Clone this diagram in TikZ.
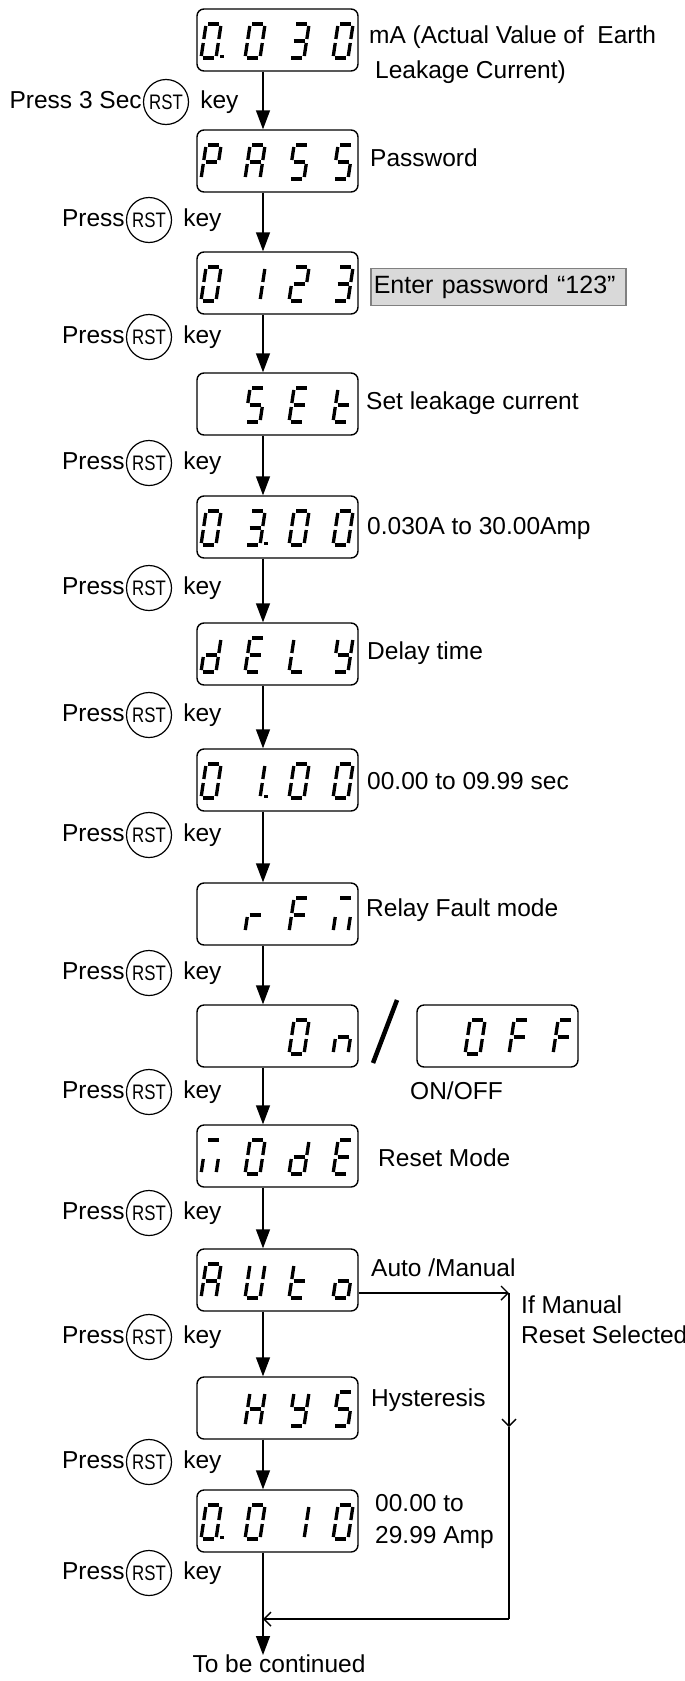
\documentclass[tikz,border=0pt]{standalone}
\usepackage{fontspec}
\setmainfont{Liberation Sans}
\newfontfamily\keyfont[FakeStretch=0.8]{Liberation Sans}
\usetikzlibrary{arrows.meta}

% one digit of the display, #1,#2 = lower left corner, #3 = segments
\newcommand{\lcdcell}[3]{%
  \begin{scope}[shift={(#1,#2)},yscale=-1,xslant=-0.15]
    \coordinate (sa1) at (2,34);  \coordinate (sa2) at (13,34);
    \coordinate (sb1) at (15,32); \coordinate (sb2) at (15,19);
    \coordinate (sc1) at (15,15); \coordinate (sc2) at (15,2);
    \coordinate (sd1) at (2,0);   \coordinate (sd2) at (13,0);
    \coordinate (se1) at (0,2);   \coordinate (se2) at (0,15);
    \coordinate (sf1) at (0,19);  \coordinate (sf2) at (0,32);
    \coordinate (sg1) at (2,17);  \coordinate (sg2) at (13,17);
    \foreach \s in {#3} {\draw[lcdseg] (s\s1) -- (s\s2);}
  \end{scope}}
\newcommand{\lcddot}[2]{\fill (#1,#2) rectangle ++(3.5,-3.5);}

% Press (RST) key, #1 = name, #2 = y, #3 = x of the ring, #4 = first word
\newcommand{\presskey}[4]{%
  \node[keyring] (#1) at (#3,#2) {RST};
  \node[lbl,anchor=east] (#1p) at ([xshift=-1pt]#1.west) {#4};
  \node[lbl,anchor=west] (#1k) at ([xshift=11pt]#1.east) {key};}

\begin{document}
\begin{tikzpicture}[x=1pt,y=-1pt,
    lcdbox/.style={draw,rounded corners=7pt,minimum width=161pt,minimum height=62pt,inner sep=0pt,line width=1.4pt},
    lcdseg/.style={line width=3.3pt,line cap=butt},
    keyring/.style={draw,circle,minimum size=45pt,inner sep=0pt,line width=1.2pt,font=\keyfont\fontsize{21}{21}\selectfont},
    lbl/.style={inner sep=0pt,text height=17.5pt,text depth=5pt,font=\fontsize{24.5}{29}\selectfont},
    flow/.style={line width=1.4pt,-{Triangle[length=19pt,width=14pt]}},
    barb/.style={line width=1.4pt,-{Straight Barb[length=7pt,width=14pt,line width=1.4pt]}}]
    \useasboundingbox (0,0) rectangle (685,1681);

    \node[lcdbox] (zero) at (277.5,40) {};
    \lcdcell{201}{58}{a,b,c,d,e,f} \lcddot{220}{58}
    \lcdcell{245}{58}{a,b,c,d,e,f}
    \lcdcell{289}{58}{a,b,g,c,d}
    \lcdcell{333}{58}{a,b,c,d,e,f}
    \node[lbl,anchor=west] (zerotxt) at (369,37) {mA (Actual Value of~ Earth};
    \node[lbl,anchor=west] (zerotxtb) at (375,72) {Leakage Current)};
    \presskey{k1}{102}{166}{Press 3 Sec}

    \node[lcdbox] (pass) at (277.5,161) {};
    \lcdcell{201}{179}{a,b,e,f,g}
    \lcdcell{245}{179}{a,b,c,e,f,g}
    \lcdcell{289}{179}{a,f,g,c,d}
    \lcdcell{333}{179}{a,f,g,c,d}
    \node[lbl,anchor=west] (passtxt) at (370,160) {Password};
    \presskey{k2}{220}{149}{Press}

    \node[lcdbox] (code) at (277.5,283) {};
    \lcdcell{201}{301}{a,b,c,d,e,f}
    \lcdcell{245}{301}{b,c}
    \lcdcell{289}{301}{a,b,g,e,d}
    \lcdcell{333}{301}{a,b,g,c,d}
    \node[anchor=west,draw=black!50,fill=black!15,line width=1.5pt,inner xsep=3pt,inner ysep=0pt,
      minimum height=37pt,text width=249pt,align=left,font=\fontsize{25}{30}\selectfont] (codetxt) at (370,287) {Enter password “123”};
    \presskey{k3}{337}{149}{Press}

    \node[lcdbox] (set) at (277.5,404) {};
    \lcdcell{245}{422}{a,f,g,c,d}
    \lcdcell{289}{422}{a,f,g,e,d}
    \lcdcell{333}{422}{f,g,e,d}
    \node[lbl,anchor=west] (settxt) at (366,403) {Set leakage current};
    \presskey{k4}{463}{149}{Press}

    \node[lcdbox] (curr) at (277.5,527) {};
    \lcdcell{201}{545}{a,b,c,d,e,f}
    \lcdcell{245}{545}{a,b,g,c,d} \lcddot{264}{545}
    \lcdcell{289}{545}{a,b,c,d,e,f}
    \lcdcell{333}{545}{a,b,c,d,e,f}
    \node[lbl,anchor=west] (currtxt) at (367,528) {0.030A to 30.00Amp};
    \presskey{k5}{588}{149}{Press}

    \node[lcdbox] (dely) at (277.5,654) {};
    \lcdcell{201}{672}{b,c,d,e,g}
    \lcdcell{245}{672}{a,f,g,e,d}
    \lcdcell{289}{672}{f,e,d}
    \lcdcell{333}{672}{b,c,d,f,g}
    \node[lbl,anchor=west] (delytxt) at (367,653) {Delay time};
    \presskey{k6}{715}{149}{Press}

    \node[lcdbox] (time) at (277.5,780) {};
    \lcdcell{201}{798}{a,b,c,d,e,f}
    \lcdcell{245}{798}{b,c} \lcddot{264}{798}
    \lcdcell{289}{798}{a,b,c,d,e,f}
    \lcdcell{333}{798}{a,b,c,d,e,f}
    \node[lbl,anchor=west] (timetxt) at (367,783) {00.00 to 09.99 sec};
    \presskey{k7}{835}{149}{Press}

    \node[lcdbox] (rfm) at (277.5,914) {};
    \lcdcell{245}{932}{e,g}
    \lcdcell{289}{932}{a,f,g,e}
    \lcdcell{333}{932}{a,c,e}
    \node[lbl,anchor=west] (rfmtxt) at (366,910) {Relay Fault mode};
    \presskey{k8}{973}{149}{Press}

    \node[lcdbox] (on) at (277.5,1036) {};
    \lcdcell{289}{1054}{a,b,c,d,e,f}
    \lcdcell{333}{1054}{c,e,g}
    \draw[line width=4.5pt] (397,1000) -- (373,1063);
    \node[lcdbox] (off) at (497.5,1036) {};
    \lcdcell{465}{1054}{a,b,c,d,e,f}
    \lcdcell{509}{1054}{a,f,g,e}
    \lcdcell{553}{1054}{a,f,g,e}
    \node[lbl,anchor=west] (ontxt) at (410,1093) {ON/OFF};
    \presskey{k9}{1092}{149}{Press}

    \node[lcdbox] (mode) at (277.5,1156) {};
    \lcdcell{201}{1174}{a,c,e}
    \lcdcell{245}{1174}{a,b,c,d,e,f}
    \lcdcell{289}{1174}{b,c,d,e,g}
    \lcdcell{333}{1174}{a,f,g,e,d}
    \node[lbl,anchor=west] (modetxt) at (378,1160) {Reset Mode};
    \presskey{k10}{1213}{149}{Press}

    \node[lcdbox] (auto) at (277.5,1280) {};
    \lcdcell{201}{1298}{a,b,c,e,f,g}
    \lcdcell{245}{1298}{b,c,d,e,f}
    \lcdcell{289}{1298}{f,g,e,d}
    \lcdcell{333}{1298}{c,d,e,g}
    \node[lbl,anchor=west] (autotxt) at (371,1270) {Auto /Manual};
    \node[lbl,anchor=west] (mantxt) at (521,1307) {If Manual};
    \node[lbl,anchor=west] (mantxtb) at (521,1337) {Reset Selected};
    \presskey{k11}{1337}{149}{Press}

    \node[lcdbox] (hys) at (277.5,1408) {};
    \lcdcell{245}{1426}{b,c,e,f,g}
    \lcdcell{289}{1426}{b,c,d,f,g}
    \lcdcell{333}{1426}{a,f,g,c,d}
    \node[lbl,anchor=west] (hystxt) at (371,1400) {Hysteresis};
    \presskey{k12}{1462}{149}{Press}

    \node[lcdbox] (band) at (277.5,1521) {};
    \lcdcell{201}{1539}{a,b,c,d,e,f} \lcddot{220}{1539}
    \lcdcell{245}{1539}{a,b,c,d,e,f}
    \lcdcell{289}{1539}{b,c}
    \lcdcell{333}{1539}{a,b,c,d,e,f}
    \node[lbl,anchor=west] (bandtxt) at (375,1505) {00.00 to};
    \node[lbl,anchor=west] (bandtxtb) at (375,1537) {29.99 Amp};
    \presskey{k13}{1573}{149}{Press}

    \node[lbl,anchor=north] (cont) at (279,1655) {To be continued};

    % arrows down the left column
    \draw[flow] ([xshift=-14.5pt]zero.south) -- ([xshift=-14.5pt]pass.north);
    \draw[flow] ([xshift=-14.5pt]pass.south) -- ([xshift=-14.5pt]code.north);
    \draw[flow] ([xshift=-14.5pt]code.south) -- ([xshift=-14.5pt]set.north);
    \draw[flow] ([xshift=-14.5pt]set.south) -- ([xshift=-14.5pt]curr.north);
    \draw[flow] ([xshift=-14.5pt]curr.south) -- ([xshift=-14.5pt]dely.north);
    \draw[flow] ([xshift=-14.5pt]dely.south) -- ([xshift=-14.5pt]time.north);
    \draw[flow] ([xshift=-14.5pt]time.south) -- ([xshift=-14.5pt]rfm.north);
    \draw[flow] ([xshift=-14.5pt]rfm.south) -- ([xshift=-14.5pt]on.north);
    \draw[flow] ([xshift=-14.5pt]on.south) -- ([xshift=-14.5pt]mode.north);
    \draw[flow] ([xshift=-14.5pt]mode.south) -- ([xshift=-14.5pt]auto.north);
    \draw[flow] ([xshift=-14.5pt]auto.south) -- ([xshift=-14.5pt]hys.north);
    \draw[flow] ([xshift=-14.5pt]hys.south) -- ([xshift=-14.5pt]band.north);

    % manual reset branch
    \coordinate (join) at (263,1619);
    \coordinate (mtop) at (509,1293);
    \coordinate (mmid) at (509,1427);
    \coordinate (mbot) at (509,1619);
    \draw[line width=1.4pt] ([xshift=-14.5pt]band.south) -- (join);
    \draw[flow] (join) -- (join |- cont.north);
    \draw[barb] ([yshift=-13pt]auto.east) -- (mtop);
    \draw[barb] (mtop) -- (mmid);
    \draw[line width=1.4pt] (mmid) -- (mbot);
    \draw[barb] (mbot) -- (join);
\end{tikzpicture}
\end{document}
